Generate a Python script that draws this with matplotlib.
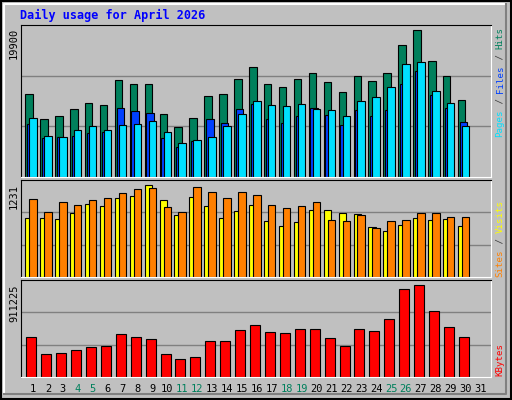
import matplotlib
matplotlib.use("Agg")
import matplotlib.pyplot as plt
import numpy as np

days = list(range(1, 31))
weekend = [4, 5, 11, 12, 18, 19, 25, 26]

hits = [11256, 7879, 8284, 9230, 10040, 9770, 13147, 12606, 12606, 8554,
        6798, 8014, 10985, 11256, 13282, 14903, 12606, 12201, 13282, 14092,
        12876, 11526, 13687, 13012, 14092, 17874, 19900, 15713, 13687, 10445]
files = [7204, 5312, 5402, 5583, 5988, 6123, 9364, 8959, 8689, 5312,
         4097, 4907, 7879, 7338, 9229, 9905, 7879, 7338, 8284, 9364,
         8419, 7068, 9094, 8284, 9094, 12606, 14362, 11120, 9364, 7473]
pages = [8014, 5583, 5447, 6393, 6933, 6393, 7068, 7203, 7609, 6123,
         4637, 5042, 5447, 6933, 8554, 10310, 9769, 9634, 9904, 9229,
         9094, 8284, 10310, 10850, 12201, 15307, 15577, 11660, 10040, 6933]
sites = [791, 791, 778, 858, 978, 951, 1058, 1084, 1231, 1031,
         831, 1071, 951, 791, 884, 964, 751, 684, 738, 898,
         898, 858, 844, 671, 618, 698, 791, 764, 778, 684]
visits = [1044, 871, 1004, 964, 1031, 1058, 1124, 1178, 1191, 938,
          871, 1204, 1138, 1058, 1138, 1098, 964, 924, 951, 1004,
          764, 751, 831, 658, 751, 764, 858, 858, 804, 804]
kbytes = [392421, 222815, 232792, 262722, 292653, 302630, 422351, 392421, 372467, 222815,
          172931, 192885, 352514, 352514, 462258, 512142, 442304, 432328, 472235, 472235,
          382444, 302630, 472235, 452281, 572002, 871307, 911225, 651818, 492188, 392421]

BG = "#C0C0C0"
MONO = "DejaVu Sans Mono"
W, H = 512, 400

fig = plt.figure(figsize=(5.12, 4.0), dpi=100, facecolor=BG)
d = np.array(days)


def add_panel(top, bottom):
    ax = fig.add_axes([20.7 / W, 1 - bottom / H, 470 / W, (bottom - top) / H])
    ax.set_facecolor(BG)
    ax.set_xlim(0.176, 31.68)
    ax.set_xticks([])
    ax.set_yticks([])
    for s in ("left", "top"):
        ax.spines[s].set_color("black")
    for s in ("right", "bottom"):
        ax.spines[s].set_color("white")
    return ax


def gridlines(ax, ymax):
    for f in (1 / 3, 2 / 3):
        ax.axhline(ymax * f, color="#808080", lw=1, zorder=0)


def side_label(x, y_bottom, parts, size=6.6):
    step = 0.602 * size * 100 / 72
    y = y_bottom
    for txt, col in parts:
        fig.text(x / W, 1 - y / H, txt, rotation=90, ha="center", va="bottom",
                 color=col, fontsize=size, family=MONO)
        y -= len(txt) * step


ek = dict(edgecolor="black", linewidth=0.8, align="edge")

# hits / files / pages
ax1 = add_panel(25, 177)
y1 = max(hits) * 1.032
ax1.set_ylim(0, y1)
gridlines(ax1, y1)
ax1.bar(d - 0.516, hits, 0.5, color="#00805C", **ek)
ax1.bar(d - 0.40, files, 0.5, color="#0040FF", **ek)
ax1.bar(d - 0.25, pages, 0.5, color="#00E0FF", **ek)

# sites / visits
ax2 = add_panel(180, 277)
y2 = max(sites) * 1.05
ax2.set_ylim(0, y2)
gridlines(ax2, y2)
ax2.bar(d - 0.516, sites, 0.5, color="#FFFF00", **ek)
ax2.bar(d - 0.25, visits, 0.5, color="#FF8000", **ek)

# kbytes
ax3 = add_panel(280, 377)
y3 = max(kbytes) * 1.05
ax3.set_ylim(0, y3)
gridlines(ax3, y3)
ax3.bar(d - 0.45, kbytes, 0.67, color="#FF0000", **ek)

# day labels
for day in range(1, 32):
    fig.text((33 + (day - 1) * 14.92) / W, 1 - 389 / H, str(day), ha="center",
             va="center", fontsize=7.5, family=MONO,
             color="#00805C" if day in weekend else "black")

# left max labels
fig.text(14 / W, 1 - 28 / H, str(max(hits)), rotation=90, ha="center", va="top",
         fontsize=7.5, family=MONO)
fig.text(14 / W, 1 - 184 / H, str(max(sites)), rotation=90, ha="center", va="top",
         fontsize=7.5, family=MONO)
fig.text(14 / W, 1 - 284 / H, str(max(kbytes)), rotation=90, ha="center", va="top",
         fontsize=7.5, family=MONO)

# right legends
side_label(500, 137, [("Pages", "#00E0FF"), (" / ", "#404040"), ("Files", "#0040FF"),
                      (" / ", "#404040"), ("Hits", "#00805C")])
side_label(500, 277, [("Sites", "#FF8000"), (" / ", "#404040"), ("Visits", "#FFFF00")])
side_label(500, 376, [("KBytes", "#FF0000")])

fig.text(20 / W, 1 - 15 / H, "Daily usage for April 2026", color="#0000FF",
         fontsize=8.5, fontweight="bold", family=MONO, va="center")

# outer frame
fig.add_artist(plt.Rectangle((0.002, 0.002), 0.996, 0.996, transform=fig.transFigure,
                             fill=False, edgecolor="black", lw=1.5))
fig.add_artist(plt.Line2D([4 / W, 4 / W, 1 - 6 / W], [6 / H, 1 - 4 / H, 1 - 4 / H],
                          transform=fig.transFigure, color="white", lw=1.5))
fig.add_artist(plt.Line2D([4 / W, 1 - 6 / W, 1 - 6 / W], [6 / H, 6 / H, 1 - 4 / H],
                          transform=fig.transFigure, color="#808080", lw=1.5))

fig.savefig("out.png", dpi=100, facecolor=BG)
